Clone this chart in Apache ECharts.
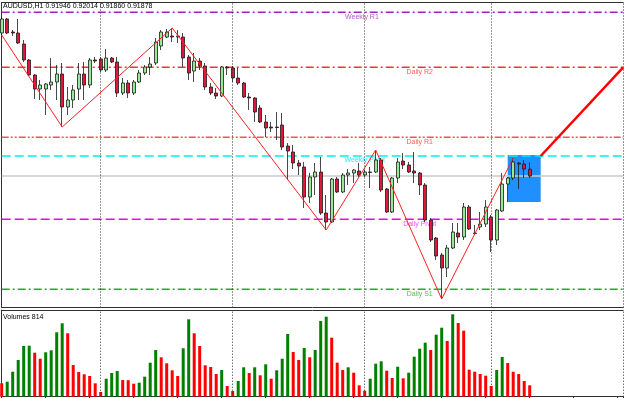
<!DOCTYPE html>
<html>
<head>
<meta charset="utf-8">
<script src="https://cdn.jsdelivr.net/npm/echarts@6/dist/echarts.min.js"></script>
<style>
  html, body { margin: 0; padding: 0; background: #fff; }
  #chart { width: 625px; height: 398px; }
</style>
</head>
<body>
<div id="chart"></div>
<script>
const symbolName = 'AUDUSD,H1';

// hourly candles, oldest first
const opens = [
  0.93308, 0.93448, 0.93318, 0.93308, 0.93198, 0.93038, 0.92888, 0.92748, 0.92748, 0.92788,
  0.92818, 0.92898, 0.92568, 0.92638, 0.92748, 0.92898, 0.92788, 0.93038, 0.93048, 0.92938,
  0.93058, 0.93018, 0.92708, 0.92808, 0.92708, 0.92818, 0.92908, 0.92968, 0.93008, 0.93178,
  0.93268, 0.93278, 0.93268, 0.93268, 0.93068, 0.92928, 0.93028, 0.92978, 0.92768, 0.92708,
  0.92678, 0.92968, 0.92958, 0.92858, 0.92808, 0.92668, 0.92658, 0.92558, 0.92418, 0.92368,
  0.92368, 0.92388, 0.92178, 0.92118, 0.92008, 0.91968, 0.91668, 0.91868, 0.91918, 0.91508,
  0.91418, 0.91848, 0.91718, 0.91888, 0.91908, 0.91928, 0.91888, 0.91918, 0.91918, 0.92038,
  0.91748, 0.91518, 0.91858, 0.92028, 0.91988, 0.91928, 0.91908, 0.91788, 0.91438, 0.91258,
  0.91088, 0.90958, 0.91158, 0.91308, 0.91268, 0.91568, 0.91308, 0.91368, 0.91398, 0.91468,
  0.91238, 0.91528, 0.91798, 0.91858, 0.92008, 0.91998, 0.91946
];
const closes = [
  0.93448, 0.93308, 0.93308, 0.93208, 0.93038, 0.92888, 0.92748, 0.92788, 0.92798, 0.92818,
  0.92898, 0.92568, 0.92638, 0.92738, 0.92898, 0.92788, 0.93038, 0.93028, 0.92938, 0.93058,
  0.93018, 0.92708, 0.92808, 0.92708, 0.92818, 0.92908, 0.92968, 0.92998, 0.93218, 0.93318,
  0.93318, 0.93268, 0.93278, 0.93058, 0.92908, 0.93028, 0.92978, 0.92768, 0.92708, 0.92678,
  0.92968, 0.92958, 0.92858, 0.92808, 0.92668, 0.92658, 0.92518, 0.92418, 0.92358, 0.92358,
  0.92363, 0.92168, 0.92128, 0.92008, 0.91978, 0.91668, 0.91868, 0.91918, 0.91508, 0.91418,
  0.91848, 0.91718, 0.91888, 0.91908, 0.91938, 0.91888, 0.91918, 0.91913, 0.92038, 0.91738,
  0.91518, 0.91858, 0.92018, 0.91988, 0.91918, 0.91908, 0.91788, 0.91438, 0.91238, 0.91078,
  0.90958, 0.91158, 0.91318, 0.91268, 0.91568, 0.91348, 0.91303, 0.91398, 0.91568, 0.91238,
  0.91538, 0.91798, 0.91858, 0.92018, 0.91998, 0.91948, 0.91878
];
const lows = [
  0.93288, 0.93298, 0.93278, 0.93198, 0.93018, 0.92878, 0.92648, 0.92638, 0.92488, 0.92738,
  0.92638, 0.92368, 0.92488, 0.92558, 0.92638, 0.92638, 0.92758, 0.93008, 0.92918, 0.92918,
  0.93008, 0.92668, 0.92688, 0.92658, 0.92688, 0.92808, 0.92888, 0.92888, 0.92988, 0.93138,
  0.93258, 0.93218, 0.93208, 0.92968, 0.92838, 0.92818, 0.92938, 0.92738, 0.92688, 0.92648,
  0.92668, 0.92888, 0.92818, 0.92788, 0.92658, 0.92538, 0.92418, 0.92408, 0.92268, 0.92318,
  0.92238, 0.92138, 0.91838, 0.91948, 0.91888, 0.91558, 0.91608, 0.91688, 0.91488, 0.91338,
  0.91408, 0.91708, 0.91708, 0.91788, 0.91808, 0.91868, 0.91868, 0.91758, 0.91908, 0.91718,
  0.91508, 0.91508, 0.91808, 0.91948, 0.91908, 0.91808, 0.91688, 0.91418, 0.91218, 0.91038,
  0.90648, 0.90868, 0.91148, 0.91208, 0.91238, 0.91338, 0.91288, 0.91338, 0.91368, 0.91118,
  0.91188, 0.91518, 0.91618, 0.91838, 0.91748, 0.91858, 0.91860
];
const highs = [
  0.93468, 0.93458, 0.93338, 0.93448, 0.93238, 0.93048, 0.92898, 0.92838, 0.92808, 0.93058,
  0.92988, 0.93008, 0.92768, 0.92788, 0.93008, 0.93018, 0.93058, 0.93068, 0.93068, 0.93148,
  0.93068, 0.93068, 0.92858, 0.92838, 0.92838, 0.92938, 0.92988, 0.93068, 0.93258, 0.93338,
  0.93348, 0.93358, 0.93338, 0.93308, 0.93088, 0.93108, 0.93058, 0.93008, 0.92808, 0.92758,
  0.92978, 0.92978, 0.92978, 0.92958, 0.92818, 0.92708, 0.92668, 0.92588, 0.92488, 0.92418,
  0.92518, 0.92508, 0.92208, 0.92188, 0.92038, 0.92018, 0.91908, 0.92008, 0.92068, 0.91688,
  0.91858, 0.91868, 0.91908, 0.91948, 0.91948, 0.92008, 0.91938, 0.91968, 0.92138, 0.92058,
  0.91758, 0.91868, 0.92058, 0.92108, 0.92018, 0.92118, 0.91918, 0.91808, 0.91458, 0.91268,
  0.91108, 0.91188, 0.91408, 0.91408, 0.91608, 0.91588, 0.91388, 0.91518, 0.91638, 0.91488,
  0.91548, 0.91908, 0.91868, 0.92058, 0.92018, 0.92038, 0.92014
];
const volumes = [
  957, 1071, 1785, 2620, 3620, 3641, 3142, 2713, 3170, 3313,
  4598, 5241, 4527, 2263, 1764, 1599, 1478, 957, 336, 1285,
  1692, 1835, 1192, 1180, 928, 1000, 1428, 2428, 3334, 2813,
  2385, 1885, 1478, 3456, 5526, 4527, 3620, 2242, 2121, 1621,
  1906, 764, 407, 1121, 2099, 1692, 2099, 1528, 2313, 1285,
  1885, 2713, 4477, 3192, 2620, 3477, 2813, 3334, 5405, 5712,
  4213, 2428, 1906, 2099, 1714, 814, 428, 1285, 2356, 2528,
  1856, 1335, 2142, 1314, 1714, 2856, 3427, 3856, 3334, 4427,
  4927, 3977, 5883, 5262, 4712, 1928, 1785, 1621, 1499, 764,
  1906, 2835, 2406, 1785, 1621, 1121, 814
];

// pivot levels
const levelNames = ['Weekly R1', 'Daily R2', 'Daily R1', 'Weekly Pivot', 'Daily Pivot', 'Daily S1'];
const levelValues = [0.93515, 0.92965, 0.92265, 0.92078, 0.91445, 0.90745];
const bidPrice = 0.91878;

// bar index where each new day starts
const daySeparators = [18, 42, 66, 89, 113];

// zigzag and projection
const zigzagIdx = [0, 11, 31, 59, 68, 80, 93];
const zigzagPrice = [0.93288, 0.92368, 0.93358, 0.91338, 0.92138, 0.90648, 0.92058];
const projectionIdx = [98, 113];
const projectionPrice = [0.92078, 0.92964];
const boxIdx = [92, 98];
const boxPrice = [0.91618, 0.92088];

const FONT = 'Liberation Sans, Arial, sans-serif';
const last = opens.length - 1;
const X_MAX = 113;

// styles of the level lines, same order as levelNames
const levelStyles = [
  { color: '#a020c8', type: [8, 3, 2, 3], text: '#9b30c0', at: 65.5 },
  { color: '#ff3030', type: [8, 3, 2, 3], text: '#ff3030', at: 76 },
  { color: '#ff5050', type: [7, 2, 2, 2, 2, 2], text: '#ff3030', at: 76 },
  { color: '#00f0f0', type: [9, 4], text: '#00e0e8', at: 66 },
  { color: '#f000f0', type: [9, 4], text: '#e030e0', at: 76 },
  { color: '#20b020', type: [8, 3, 2, 3], text: '#30a830', at: 76 }
];

const hiddenAxis = {
  axisLabel: { show: false },
  splitLine: { show: false },
  axisTick: { show: false },
  axisLine: { show: true, onZero: false, lineStyle: { color: '#303030', width: 1 } }
};

const sepLine = {
  silent: true,
  precision: 5,
  symbol: ['none', 'none'],
  label: { show: false },
  lineStyle: { color: '#303030', type: [1, 2], width: 1 },
  data: daySeparators.map(v => ({ xAxis: v }))
};

// one flat line series per level
const levelSeries = levelValues.map((v, k) => ({
  type: 'line', xAxisIndex: 0, yAxisIndex: 0, z: 1, symbol: 'none', silent: true,
  data: [[0, v], [X_MAX, v]],
  lineStyle: { color: levelStyles[k].color, type: levelStyles[k].type, width: 1.4 }
}));

const chart = echarts.init(document.getElementById('chart'));
chart.setOption({
  animation: false,
  backgroundColor: '#fff',
  textStyle: { fontFamily: FONT },
  title: [
    {
      text: `${symbolName} ${opens[last].toFixed(5)} ${highs[last].toFixed(5)} ${lows[last].toFixed(5)} ${closes[last].toFixed(5)}`,
      left: 3, top: 3, padding: 0,
      textStyle: { fontSize: 7, fontWeight: 'normal', color: '#000', fontFamily: FONT }
    },
    {
      text: `Volumes ${volumes[last]}`,
      left: 3, top: 313.5, padding: 0,
      textStyle: { fontSize: 7, fontWeight: 'normal', color: '#000', fontFamily: FONT }
    }
  ],
  grid: [
    { left: 1.7, right: 1.8, top: 2.5, height: 305 },
    { left: 1.7, right: 1.8, top: 310, height: 86.7 }
  ],
  xAxis: [
    { type: 'value', gridIndex: 0, min: 0, max: X_MAX, position: 'bottom', ...hiddenAxis },
    { type: 'value', gridIndex: 0, min: 0, max: X_MAX, position: 'top', ...hiddenAxis },
    {
      type: 'value', gridIndex: 1, min: 0, max: X_MAX, interval: 8, position: 'bottom', ...hiddenAxis,
      axisTick: { show: true, length: 2, lineStyle: { color: '#303030' } }
    },
    { type: 'value', gridIndex: 1, min: 0, max: X_MAX, position: 'top', ...hiddenAxis }
  ],
  yAxis: [
    { type: 'value', gridIndex: 0, min: 0.90563, max: 0.93613, ...hiddenAxis },
    { type: 'value', gridIndex: 1, min: 0, max: 6190, ...hiddenAxis }
  ],
  series: [
    ...levelSeries,
    {
      // bid line
      type: 'line', xAxisIndex: 0, yAxisIndex: 0, z: 1, symbol: 'none', silent: true,
      data: [[0, bidPrice], [X_MAX, bidPrice]],
      lineStyle: { color: '#c8c8c8', width: 1.5 }
    },
    {
      type: 'line', xAxisIndex: 0, yAxisIndex: 0, data: [], z: 1,
      markLine: sepLine
    },
    {
      // level captions
      type: 'scatter', xAxisIndex: 0, yAxisIndex: 0, z: 2, symbolSize: 0, silent: true,
      data: levelNames.map((name, k) => ({
        name,
        value: [levelStyles[k].at, levelValues[k]],
        label: { color: levelStyles[k].text }
      })),
      label: {
        show: true, position: 'bottom', distance: 1,
        formatter: '{b}', fontSize: 7, fontFamily: FONT
      }
    },
    {
      type: 'line', xAxisIndex: 0, yAxisIndex: 0, data: [], z: 2,
      markArea: {
        silent: true,
        itemStyle: { color: '#1e90ff', opacity: 1 },
        data: [[{ xAxis: boxIdx[0], yAxis: boxPrice[1] }, { xAxis: boxIdx[1], yAxis: boxPrice[0] }]]
      }
    },
    {
      type: 'candlestick', xAxisIndex: 0, yAxisIndex: 0, z: 3,
      barWidth: 3.5,
      encode: { x: 0, y: [1, 2, 3, 4] },
      data: opens.map((o, i) => [i, o, closes[i], lows[i], highs[i]]),
      itemStyle: {
        color: '#98e898', color0: '#e0163c',
        borderColor: '#1a1a1a', borderColor0: '#1a1a1a', borderWidth: 0.8
      }
    },
    {
      type: 'line', xAxisIndex: 0, yAxisIndex: 0, z: 4, symbol: 'none',
      data: zigzagIdx.map((x, k) => [x, zigzagPrice[k]]),
      lineStyle: { color: '#ff2020', width: 1 }
    },
    {
      type: 'line', xAxisIndex: 0, yAxisIndex: 0, z: 4, symbol: 'none',
      data: projectionIdx.map((x, k) => [x, projectionPrice[k]]),
      lineStyle: { color: '#ff0000', width: 2.5 }
    },
    {
      type: 'bar', xAxisIndex: 2, yAxisIndex: 1, barWidth: 3,
      data: volumes.map((v, i) => ({
        value: [i, v],
        itemStyle: { color: i > 0 && v > volumes[i - 1] ? '#008000' : '#ff0000' }
      })),
      markLine: sepLine
    }
  ]
});
</script>
</body>
</html>
